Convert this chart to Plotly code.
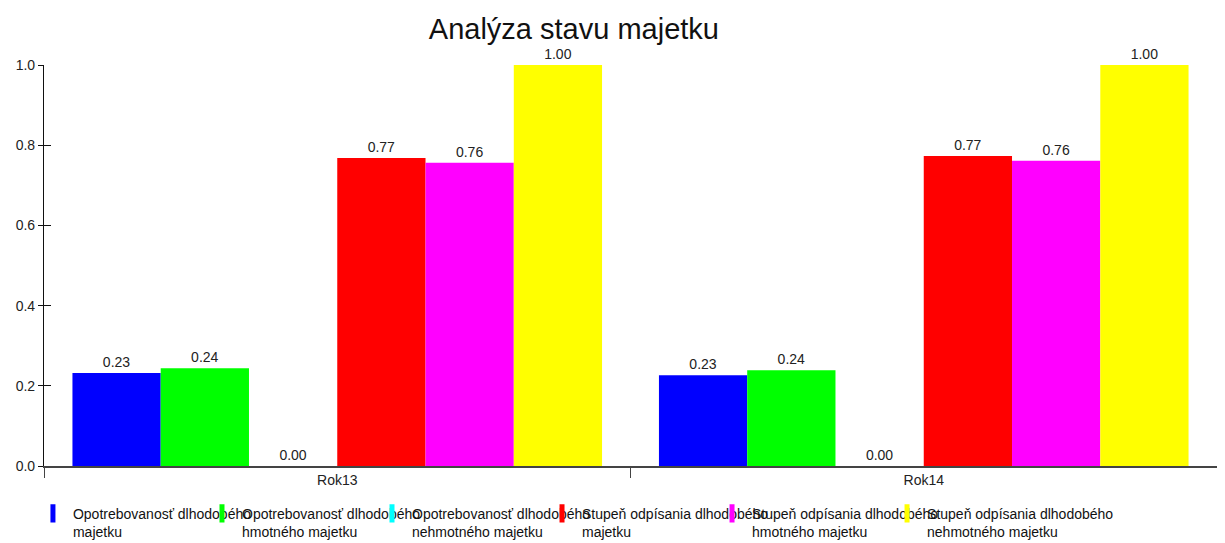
import plotly.graph_objects as go

categories = ["Rok13", "Rok14"]
series_names = [
    "Opotrebovanosť dlhodobého<br>majetku",
    "Opotrebovanosť dlhodobého<br>hmotného majetku",
    "Opotrebovanosť dlhodobého<br>nehmotného majetku",
    "Stupeň odpísania dlhodobého<br>majetku",
    "Stupeň odpísania dlhodobého<br>hmotného majetku",
    "Stupeň odpísania dlhodobého<br>nehmotného majetku",
]
values_op_dm = [0.232, 0.226]
values_op_dhm = [0.244, 0.239]
values_op_dnm = [0.0, 0.0]
values_so_dm = [0.768, 0.773]
values_so_dhm = [0.756, 0.761]
values_so_dnm = [1.0, 1.0]
colors = ["#0000FF", "#00FF00", "#00FFFF", "#FF0000", "#FF00FF", "#FFFF00"]
y_ticks = [0.0, 0.2, 0.4, 0.6, 0.8, 1.0]

all_values = [values_op_dm, values_op_dhm, values_op_dnm, values_so_dm, values_so_dhm, values_so_dnm]

FONT = "Liberation Sans, Arial, sans-serif"
legend_ids = ["legend", "legend2", "legend3", "legend4", "legend5", "legend6"]
legend_x = [0.0205, 0.1594, 0.2991, 0.4388, 0.5785, 0.7223]

fig = go.Figure()
for name, vals, col in zip(series_names, all_values, colors):
    fig.add_trace(go.Bar(
        x=categories, y=vals, name=name, showlegend=False,
        marker=dict(color=col, line=dict(width=0)),
        texttemplate="%{y:.2f}", textposition="outside",
        textfont=dict(size=14, color="#222222", family=FONT),
        cliponaxis=False,
    ))

# legend entries (thin vertical bar symbol like the original)
for name, col, lid in zip(series_names, colors, legend_ids):
    fig.add_trace(go.Scatter(
        x=[None], y=[None], mode="markers", name=name, legend=lid,
        marker=dict(symbol="line-ns", size=13, color=col, line=dict(color=col, width=5)),
        hoverinfo="skip",
    ))

# invisible trace for crossing y ticks (inside part)
fig.add_trace(go.Scatter(x=categories, y=[None, None], yaxis="y2", showlegend=False, hoverinfo="skip"))

layout_legends = {}
for lid, lx in zip(legend_ids, legend_x):
    layout_legends[lid] = dict(
        x=lx, xanchor="left", xref="container", y=0.0845, yanchor="top", yref="container",
        orientation="h", font=dict(size=14, family=FONT, color="#111111"),
        bgcolor="rgba(0,0,0,0)", valign="top", itemwidth=30,
    )

fig.update_layout(
    width=1217, height=535,
    paper_bgcolor="white", plot_bgcolor="white",
    font=dict(family=FONT, size=14, color="#222222"),
    title=dict(text="Analýza stavu majetku", x=0.465, xanchor="center", y=0.961, yanchor="middle",
               font=dict(size=29, color="#111111", family=FONT)),
    margin=dict(l=32, r=8, t=57, b=77),
    barmode="group", bargap=0.097, bargroupgap=0,
    showlegend=True,
    xaxis=dict(showline=True, linecolor="#444444", linewidth=1.5, ticks="outside",
               tickson="boundaries", ticklen=10, tickcolor="#444444",
               tickfont=dict(size=14, family=FONT), showgrid=False, zeroline=False),
    yaxis=dict(range=[0, 1.0], tickvals=y_ticks, tickformat=".1f", showline=True,
               linecolor="#111111", linewidth=1.2, ticks="outside", ticklen=5,
               tickcolor="#111111", showgrid=False, zeroline=False,
               tickfont=dict(size=14, family=FONT)),
    yaxis2=dict(range=[0, 1.0], tickvals=y_ticks, overlaying="y", side="left",
                ticks="inside", ticklen=7, tickcolor="#111111", showticklabels=False,
                showline=False, showgrid=False, zeroline=False),
    **layout_legends,
)

fig.write_html("out.html")
